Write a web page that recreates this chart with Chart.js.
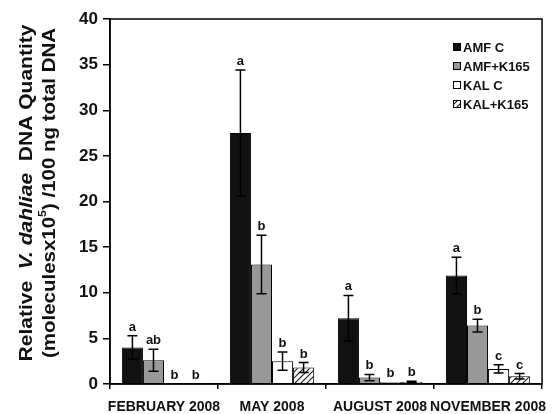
<!DOCTYPE html>
<html>
<head>
<meta charset="utf-8">
<script src="https://cdn.jsdelivr.net/npm/chart.js@4/dist/chart.umd.min.js"></script>
<style>
  html, body { margin: 0; padding: 0; background: #fff; }
  #wrap { width: 557px; height: 414px; }
</style>
</head>
<body>
<div id="wrap"><canvas id="dnaChart" width="557" height="414"></canvas></div>
<script>
// chart data
const categories = ['FEBRUARY 2008', 'MAY 2008', 'AUGUST 2008', 'NOVEMBER 2008'];
const seriesNames = ['AMF C', 'AMF+K165', 'KAL C', 'KAL+K165'];
const amfC = [4.0, 27.5, 7.2, 11.9];
const amfCErr = [1.3, 6.9, 2.5, 2.0];
const amfK165 = [2.6, 13.1, 0.7, 6.4];
const amfK165Err = [1.2, 3.2, 0.35, 0.7];
const kalC = [0.05, 2.5, 0.2, 1.65];
const kalCErr = [0, 1.0, 0, 0.45];
const kalK165 = [0.05, 1.8, 0.25, 0.85];
const kalK165Err = [0, 0.55, 0.05, 0.3];
const letters = [
    ['a', 'a', 'a', 'a'],
    ['ab', 'b', 'b', 'b'],
    ['b', 'b', 'b', 'c'],
    ['b', 'b', 'b', 'c']
];
const yTicks = [0, 5, 10, 15, 20, 25, 30, 35, 40];

const FONT = "'Liberation Sans', Arial, sans-serif";

function hatchPattern() {
    const c = document.createElement('canvas');
    c.width = 6; c.height = 6;
    const g = c.getContext('2d');
    g.fillStyle = '#fff';
    g.fillRect(0, 0, 6, 6);
    g.strokeStyle = '#222';
    g.lineWidth = 1.2;
    g.beginPath();
    g.moveTo(-1, 7); g.lineTo(7, -1);
    g.moveTo(-4, 4); g.lineTo(4, -4);
    g.moveTo(2, 10); g.lineTo(10, 2);
    g.stroke();
    return document.getElementById('dnaChart').getContext('2d').createPattern(c, 'repeat');
}

const hatch = hatchPattern();
const fills = ['#111111', '#999999', '#ffffff', hatch];
const values = [amfC, amfK165, kalC, kalK165];
const errors = [amfCErr, amfK165Err, kalCErr, kalK165Err];

// error bars, significance letters, frame, legend and y title
const extras = {
    id: 'extras',
    afterDatasetsDraw(chart) {
        const ctx = chart.ctx;
        const y = chart.scales.y;
        ctx.save();
        chart.data.datasets.forEach((ds, di) => {
            const meta = chart.getDatasetMeta(di);
            meta.data.forEach((bar, i) => {
                const v = values[di][i];
                const e = errors[di][i];
                let top = y.getPixelForValue(v);
                if (e > 0) {
                    const yt = y.getPixelForValue(v + e);
                    const yb = y.getPixelForValue(Math.max(v - e, 0));
                    ctx.strokeStyle = '#000';
                    ctx.lineWidth = 1.5;
                    ctx.beginPath();
                    ctx.moveTo(bar.x, yt); ctx.lineTo(bar.x, yb);
                    ctx.moveTo(bar.x - 5, yt); ctx.lineTo(bar.x + 5, yt);
                    ctx.moveTo(bar.x - 5, yb); ctx.lineTo(bar.x + 5, yb);
                    ctx.stroke();
                    top = yt;
                }
                ctx.fillStyle = '#111';
                ctx.font = 'bold 13px ' + FONT;
                ctx.textAlign = 'center';
                ctx.textBaseline = 'alphabetic';
                ctx.fillText(letters[di][i], bar.x, top - 5);
            });
        });
        ctx.restore();
    },
    afterDraw(chart) {
        const ctx = chart.ctx;
        const a = chart.chartArea;
        ctx.save();
        // plot frame
        ctx.strokeStyle = '#000';
        ctx.lineWidth = 1.5;
        ctx.strokeRect(a.left, a.top, a.right - a.left, a.bottom - a.top);

        // legend
        ctx.font = 'bold 13px ' + FONT;
        ctx.textAlign = 'left';
        ctx.textBaseline = 'middle';
        chart.data.datasets.forEach((ds, i) => {
            const cy = 47 + i * 19;
            ctx.fillStyle = ds.backgroundColor;
            ctx.fillRect(453, cy - 4, 8, 8);
            ctx.strokeStyle = '#000';
            ctx.lineWidth = 1;
            ctx.strokeRect(453.5, cy - 3.5, 7, 7);
            ctx.fillStyle = '#111';
            ctx.fillText(ds.label, 463, cy + 1);
        });

        // y axis title, two rotated lines with mixed styles
        const cy = 193;
        const line1 = [
            { t: 'Relative  ', f: 'bold 18px ' + FONT },
            { t: 'V. dahliae', f: 'italic bold 18px ' + FONT },
            { t: '  DNA Quantity', f: 'bold 18px ' + FONT }
        ];
        const line2 = [
            { t: '(moleculesx10', f: 'bold 18px ' + FONT },
            { t: '5', f: 'bold 11px ' + FONT, up: 7 },
            { t: ') /100 ng total DNA', f: 'bold 18px ' + FONT }
        ];
        [[line1, 27, 337], [line2, 50, 330]].forEach(([parts, x, target]) => {
            ctx.save();
            ctx.translate(x, cy);
            ctx.rotate(-Math.PI / 2);
            ctx.fillStyle = '#111';
            ctx.textBaseline = 'middle';
            ctx.textAlign = 'left';
            let total = 0;
            parts.forEach(p => { ctx.font = p.f; total += ctx.measureText(p.t).width; });
            ctx.scale(target / total, 1);
            let px = -total / 2;
            parts.forEach(p => {
                ctx.font = p.f;
                ctx.fillText(p.t, px, -(p.up || 0));
                px += ctx.measureText(p.t).width;
            });
            ctx.restore();
        });
        ctx.restore();
    }
};

new Chart(document.getElementById('dnaChart'), {
    type: 'bar',
    data: {
        labels: categories,
        datasets: seriesNames.map((name, i) => ({
            label: name,
            data: values[i],
            backgroundColor: fills[i],
            borderColor: '#000',
            borderWidth: 1,
            categoryPercentage: 0.78,
            barPercentage: 1.0
        }))
    },
    options: {
        responsive: false,
        animation: false,
        devicePixelRatio: 1,
        layout: { padding: { top: 19, right: 8, bottom: 0, left: 0 } },
        plugins: {
            legend: { display: false },
            tooltip: { enabled: false }
        },
        scales: {
            x: {
                grid: {
                    display: true,
                    drawOnChartArea: false,
                    drawTicks: true,
                    tickLength: 5,
                    color: '#000',
                    lineWidth: 1.5
                },
                border: { color: '#000', width: 1.5 },
                ticks: {
                    color: '#111',
                    padding: 10,
                    maxRotation: 0,
                    autoSkip: false,
                    font: { family: FONT, size: 14, weight: 'bold' }
                },
                afterFit(scale) { scale.height = 30; }
            },
            y: {
                min: 0,
                max: 40,
                afterBuildTicks(scale) { scale.ticks = yTicks.map(v => ({ value: v })); },
                grid: {
                    display: true,
                    drawOnChartArea: false,
                    drawTicks: true,
                    tickLength: 7,
                    color: '#000',
                    lineWidth: 1.5
                },
                border: { color: '#000', width: 1.5 },
                ticks: {
                    color: '#111',
                    padding: 5,
                    font: { family: FONT, size: 17, weight: 'bold' }
                },
                afterFit(scale) { scale.width = 110; }
            }
        }
    },
    plugins: [extras]
});
</script>
</body>
</html>
